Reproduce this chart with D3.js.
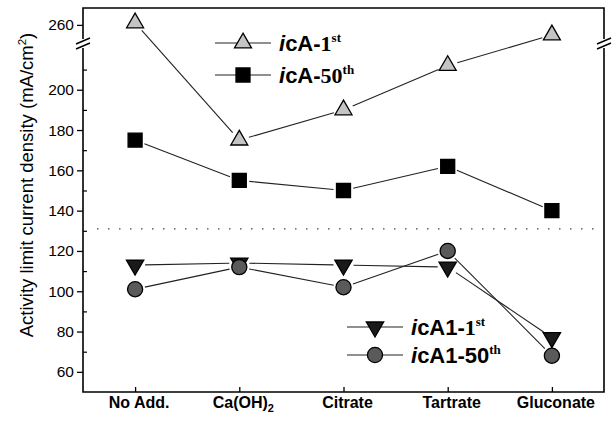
<!DOCTYPE html>
<html>
<head>
<meta charset="utf-8">
<script src="https://cdn.jsdelivr.net/npm/d3@7"></script>
<style>
  html, body { margin: 0; padding: 0; background: #fff; }
  svg { display: block; }
  text { font-family: "Liberation Sans", Arial, sans-serif; fill: #000; }
</style>
</head>
<body>
<svg id="chart" width="616" height="426"></svg>
<script>
// Additives tested
const categories = ["No Add.", "Ca(OH)2", "Citrate", "Tartrate", "Gluconate"];
// Activity limit current density (mA/cm2)
const icA_1st   = [261, 175, 190, 212, 255];
const icA_50th  = [175, 155, 150, 162, 140];
const icA1_1st  = [113, 114, 113, 112, 77];
const icA1_50th = [101, 112, 102, 120, 68];
// Axis ticks (lower segment and the segment above the break)
const majorTicks = [60, 80, 100, 120, 140, 160, 180, 200, 260];
const minorTicks = [70, 90, 110, 130, 150, 170, 190, 210];
// Divider between the icA and icA1 groups
const dividerValue = 131;

const svg = d3.select("#chart");
const plotL = 83, plotR = 604, plotT = 8, plotB = 392, breakY = 45;

const x = d3.scalePoint().domain(categories).range([plotL, plotR]).padding(0.5);
// Broken axis: 50–222 below the break, 250–268 above it
const y = d3.scaleLinear()
  .domain([50, 222.2, 250, 268.4])
  .range([plotB, breakY, breakY, plotT]);

// Divider
svg.append("line")
  .attr("x1", plotL + 14).attr("x2", plotR - 3)
  .attr("y1", y(dividerValue)).attr("y2", y(dividerValue))
  .attr("stroke", "#444").attr("stroke-width", 1.2)
  .attr("stroke-dasharray", "1.5,9.5");

// Frame with axis breaks
const frame = svg.append("g").attr("stroke", "#000").attr("stroke-width", 1.6).attr("fill", "none");
frame.append("path").attr("d", `M${plotL},${breakY - 6}V${plotT}H${plotR}V${breakY - 6}`);
frame.append("path").attr("d", `M${plotL},${breakY + 3}V${plotB}H${plotR}V${breakY + 3}`);
[plotL, plotR].forEach(cx => {
  frame.append("line").attr("x1", cx - 7).attr("y1", breakY - 1).attr("x2", cx + 7).attr("y2", breakY - 7).attr("stroke-width", 1.4);
  frame.append("line").attr("x1", cx - 7).attr("y1", breakY + 4).attr("x2", cx + 7).attr("y2", breakY - 2).attr("stroke-width", 1.4);
});

// Y axis: major ticks outward, minor ticks inward
const yAxis = svg.append("g").attr("transform", `translate(${plotL},0)`)
  .call(d3.axisLeft(y).tickValues(majorTicks).tickSize(6).tickPadding(3).tickFormat(d3.format("d")));
yAxis.select(".domain").remove();
yAxis.selectAll("line").attr("stroke-width", 1.3);
yAxis.selectAll("text").style("font-size", "15.5px").style("font-family", "Liberation Sans, Arial, sans-serif");

const yMinor = svg.append("g").attr("transform", `translate(${plotL},0)`)
  .call(d3.axisLeft(y).tickValues(minorTicks).tickSize(-4).tickFormat(""));
yMinor.select(".domain").remove();
yMinor.selectAll("line").attr("stroke-width", 1.2);

// X axis: ticks pointing inward
const xAxis = svg.append("g").attr("transform", `translate(0,${plotB})`)
  .call(d3.axisBottom(x).tickSize(-5).tickFormat(""));
xAxis.select(".domain").remove();
xAxis.selectAll("line").attr("stroke-width", 1.3);

// Category labels
const xl = svg.append("g");
categories.forEach(c => {
  const t = xl.append("text")
    .attr("x", x(c) + 4).attr("y", 408)
    .attr("text-anchor", "middle")
    .style("font-size", "16px").style("font-weight", "bold");
  const m = c.match(/^(.*?)(\d)$/);
  if (m && c.startsWith("Ca")) {
    t.append("tspan").text(m[1]);
    t.append("tspan").attr("dy", 4).style("font-size", "11px").text(m[2]);
  } else {
    t.text(c);
  }
});

// Y title
const yTitle = svg.append("text")
  .attr("transform", "translate(33,185) rotate(-90)")
  .attr("text-anchor", "middle")
  .style("font-size", "18.5px");
yTitle.append("tspan").text("Activity limit current density (mA/cm");
yTitle.append("tspan").attr("dy", -7).style("font-size", "11.5px").text("2");
yTitle.append("tspan").attr("dy", 7).text(")");

// Marker shapes
const shapes = {
  up:     { path: d3.symbol(d3.symbolTriangle, 125)(), rot: 0,   fill: "#c4c4c4" },
  square: { path: d3.symbol(d3.symbolSquare, 196)(),   rot: 0,   fill: "#000" },
  down:   { path: d3.symbol(d3.symbolTriangle, 130)(), rot: 180, fill: "#1a1a1a" },
  circle: { path: d3.symbol(d3.symbolCircle, 180)(),   rot: 0,   fill: "#5a5a5a" }
};

function marker(g, kind, cx, cy) {
  const s = shapes[kind];
  g.append("path")
    .attr("d", s.path)
    .attr("transform", `translate(${cx},${cy}) rotate(${s.rot})`)
    .attr("fill", s.fill)
    .attr("stroke", "#000").attr("stroke-width", 1.3);
}

// Connecting segments stop short of the markers
function series(values, kind) {
  const g = svg.append("g");
  const pts = values.map((v, i) => [x(categories[i]), y(v)]);
  const gap = 10;
  for (let i = 0; i < pts.length - 1; i++) {
    const [x1, y1] = pts[i], [x2, y2] = pts[i + 1];
    const len = Math.hypot(x2 - x1, y2 - y1);
    const ux = (x2 - x1) / len, uy = (y2 - y1) / len;
    g.append("line")
      .attr("x1", x1 + ux * gap).attr("y1", y1 + uy * gap)
      .attr("x2", x2 - ux * gap).attr("y2", y2 - uy * gap)
      .attr("stroke", "#222").attr("stroke-width", 1.1);
  }
  pts.forEach(p => marker(g, kind, p[0], p[1]));
}

series(icA_1st, "up");
series(icA_50th, "square");
series(icA1_1st, "down");
series(icA1_50th, "circle");

// Legends
function legendEntry(lx, ly, kind, parts) {
  const g = svg.append("g");
  g.append("line").attr("x1", lx).attr("x2", lx + 56).attr("y1", ly).attr("y2", ly)
    .attr("stroke", "#222").attr("stroke-width", 1.1);
  marker(g, kind, lx + 28, ly);
  const t = g.append("text").attr("x", lx + 64).attr("y", ly + 8)
    .style("font-size", "22px").style("font-weight", "bold");
  parts.forEach(p => {
    const ts = t.append("tspan").text(p.t);
    if (p.italic) ts.style("font-style", "italic");
    if (p.serif) ts.style("font-family", "'Liberation Serif', 'Times New Roman', serif");
    if (p.sup) ts.attr("dy", -9).style("font-size", "13px");
  });
}

legendEntry(215, 43, "up", [
  { t: "i", italic: true }, { t: "cA-" }, { t: "1", serif: true }, { t: "st", serif: true, sup: true }
]);
legendEntry(215, 75, "square", [
  { t: "i", italic: true }, { t: "cA-" }, { t: "50", serif: true }, { t: "th", serif: true, sup: true }
]);
legendEntry(347, 327, "down", [
  { t: "i", italic: true }, { t: "cA1-" }, { t: "1", serif: true }, { t: "st", serif: true, sup: true }
]);
legendEntry(347, 355, "circle", [
  { t: "i", italic: true }, { t: "cA1-50" }, { t: "th", serif: true, sup: true }
]);
</script>
</body>
</html>
